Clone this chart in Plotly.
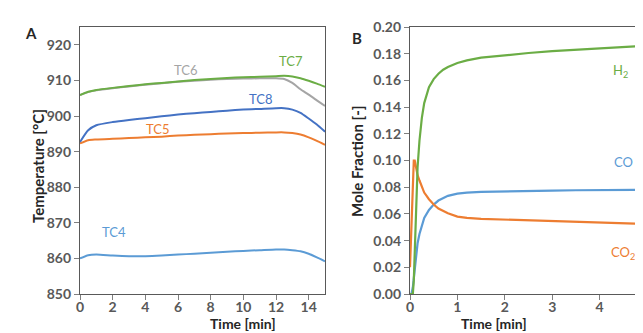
import plotly.graph_objects as go

# ---------------- Panel A data ----------------
time_a = [0, 0.5, 1, 2, 3, 4, 5, 6, 7, 8, 9, 10, 11, 12, 12.5, 13, 13.5, 14, 14.5, 15]
tc7 = [905.9, 906.8, 907.3, 907.9, 908.4, 908.9, 909.3, 909.7, 910.1, 910.4, 910.7, 910.9, 911.0, 911.2, 911.3, 911.1, 910.6, 909.9, 909.1, 908.2]
tc6 = [905.9, 906.7, 907.2, 907.8, 908.3, 908.8, 909.2, 909.6, 909.9, 910.2, 910.4, 910.5, 910.6, 910.6, 910.4, 909.3, 907.5, 906.0, 904.4, 902.8]
tc8 = [892.7, 896.0, 897.4, 898.3, 898.9, 899.4, 899.9, 900.4, 900.8, 901.1, 901.5, 901.8, 902.0, 902.2, 902.2, 901.8, 900.9, 899.3, 897.6, 895.6]
tc5 = [892.3, 893.2, 893.4, 893.6, 893.8, 894.0, 894.2, 894.5, 894.7, 894.9, 895.1, 895.2, 895.3, 895.4, 895.4, 895.2, 894.8, 894.0, 893.0, 891.9]
tc4 = [860.0, 860.9, 861.1, 860.8, 860.6, 860.6, 860.8, 861.1, 861.3, 861.6, 861.9, 862.1, 862.3, 862.5, 862.5, 862.3, 862.0, 861.3, 860.3, 859.2]

# ---------------- Panel B data ----------------
time_b = [0, 0.03, 0.06, 0.08, 0.1, 0.13, 0.16, 0.2, 0.25, 0.3, 0.4, 0.5, 0.6, 0.7, 0.8, 1.0, 1.2, 1.5, 2, 2.5, 3, 3.5, 4, 4.5, 5]
h2 = [0, 0, 0, 0.01, 0.035, 0.07, 0.095, 0.115, 0.132, 0.143, 0.155, 0.161, 0.165, 0.168, 0.170, 0.173, 0.175, 0.177, 0.179, 0.1805, 0.182, 0.183, 0.184, 0.185, 0.186]
co2 = [0.02, 0.05, 0.085, 0.1, 0.1, 0.094, 0.089, 0.085, 0.080, 0.076, 0.071, 0.067, 0.064, 0.062, 0.0605, 0.058, 0.057, 0.0563, 0.0557, 0.055, 0.0545, 0.054, 0.0537, 0.053, 0.0524]
co = [0, 0, 0.005, 0.012, 0.02, 0.03, 0.038, 0.045, 0.052, 0.057, 0.063, 0.067, 0.070, 0.072, 0.0735, 0.0752, 0.076, 0.0765, 0.077, 0.0772, 0.0775, 0.0777, 0.0778, 0.078, 0.078]

ticks_a_x = [0, 2, 4, 6, 8, 10, 12, 14]
ticks_a_y = [850, 860, 870, 880, 890, 900, 910, 920]
ticks_b_x = [0, 1, 2, 3, 4, 5]
ticks_b_y = [0.00, 0.02, 0.04, 0.06, 0.08, 0.10, 0.12, 0.14, 0.16, 0.18, 0.20]

GREEN = "#6BAD45"
ORANGE = "#ED7D31"
LBLUE = "#5B9BD5"
DBLUE = "#4472C4"
GREY = "#A5A5A5"
FONT = "Lato"

fig = go.Figure()

def add(x, y, color, xa, ya):
    fig.add_trace(go.Scatter(x=x, y=y, mode="lines", line=dict(color=color, width=2, shape="spline", smoothing=0.6),
                             xaxis=xa, yaxis=ya, showlegend=False, hoverinfo="skip"))

add(time_a, tc4, LBLUE, "x", "y")
add(time_a, tc5, ORANGE, "x", "y")
add(time_a, tc8, DBLUE, "x", "y")
add(time_a, tc6, GREY, "x", "y")
add(time_a, tc7, GREEN, "x", "y")

def addb(x, y, color):
    fig.add_trace(go.Scatter(x=x, y=y, mode="lines", line=dict(color=color, width=2.2),
                             xaxis="x2", yaxis="y2", showlegend=False, hoverinfo="skip"))

addb(time_b, co, LBLUE)
addb(time_b, co2, ORANGE)
addb(time_b, h2, GREEN)

tickfont = dict(family=FONT, size=14, color="#595959", weight="bold")
common = dict(showgrid=False, zeroline=False, showline=True, mirror=True, linecolor="#595959", linewidth=1.3,
              ticks="outside", ticklen=5, tickcolor="#7f7f7f", tickfont=tickfont, automargin=False)

yb0, yb1 = 1 - 286 / 333, 1 - 19 / 333
fig.update_layout(
    width=643, height=333,
    margin=dict(l=0, r=0, t=0, b=0),
    paper_bgcolor="white", plot_bgcolor="white",
    xaxis=dict(domain=[72 / 643, 317 / 643], range=[0, 15], tickvals=ticks_a_x, anchor="y",
               ticklabelstandoff=-5, **common),
    yaxis=dict(domain=[yb0, yb1], range=[850, 925], tickvals=ticks_a_y, anchor="x", **common),
    xaxis2=dict(domain=[402 / 643, 639 / 643], range=[0, 5], tickvals=ticks_b_x, anchor="y2",
                ticklabelstandoff=-5, ticklabeloverflow="allow", **common),
    yaxis2=dict(domain=[yb0, yb1], range=[0, 0.2], tickvals=ticks_b_y, tickformat=".2f", anchor="x2", **common),
)

ann = []
def lab(text, x, y, color, xr, yr):
    ann.append(dict(text=text, x=x, y=y, xref=xr, yref=yr, showarrow=False,
                    font=dict(family=FONT, size=13, color=color)))

lab("TC6", 6.5, 912.8, GREY, "x", "y")
lab("TC7", 12.9, 915.5, GREEN, "x", "y")
lab("TC8", 11.1, 904.7, DBLUE, "x", "y")
lab("TC5", 4.8, 896.4, ORANGE, "x", "y")
lab("TC4", 2.1, 867.3, LBLUE, "x", "y")
lab("H<sub>2</sub>", 4.45, 0.167, GREEN, "x2", "y2")
lab("CO", 4.5, 0.099, LBLUE, "x2", "y2")
lab("CO<sub>2</sub>", 4.5, 0.031, ORANGE, "x2", "y2")

ytitlefont = dict(family=FONT, size=15, color="#262626", weight="bold")
xtitlefont = dict(family=FONT, size=14, color="#262626", weight="bold")
ann.append(dict(text="Time [min]", x=201 / 643, y=1 - 325 / 333, xref="paper", yref="paper",
                showarrow=False, borderpad=0, font=xtitlefont))
ann.append(dict(text="Time [min]", x=520 / 643, y=1 - 325 / 333, xref="paper", yref="paper",
                showarrow=False, borderpad=0, font=xtitlefont))
ann.append(dict(text="Temperature [°C]", x=19 / 643, y=1 - 158 / 333, xref="paper", yref="paper",
                showarrow=False, textangle=-90, font=ytitlefont))
ann.append(dict(text="Mole Fraction [-]", x=349 / 643, y=1 - 153 / 333, xref="paper", yref="paper",
                showarrow=False, textangle=-90, font=ytitlefont))
ann.append(dict(text="A", x=15 / 643, y=1 - 14 / 333, xref="paper", yref="paper",
                showarrow=False, font=ytitlefont))
ann.append(dict(text="B", x=349 / 643, y=1 - 19 / 333, xref="paper", yref="paper",
                showarrow=False, font=ytitlefont))
fig.update_layout(annotations=ann)

fig.write_html("out.html")
